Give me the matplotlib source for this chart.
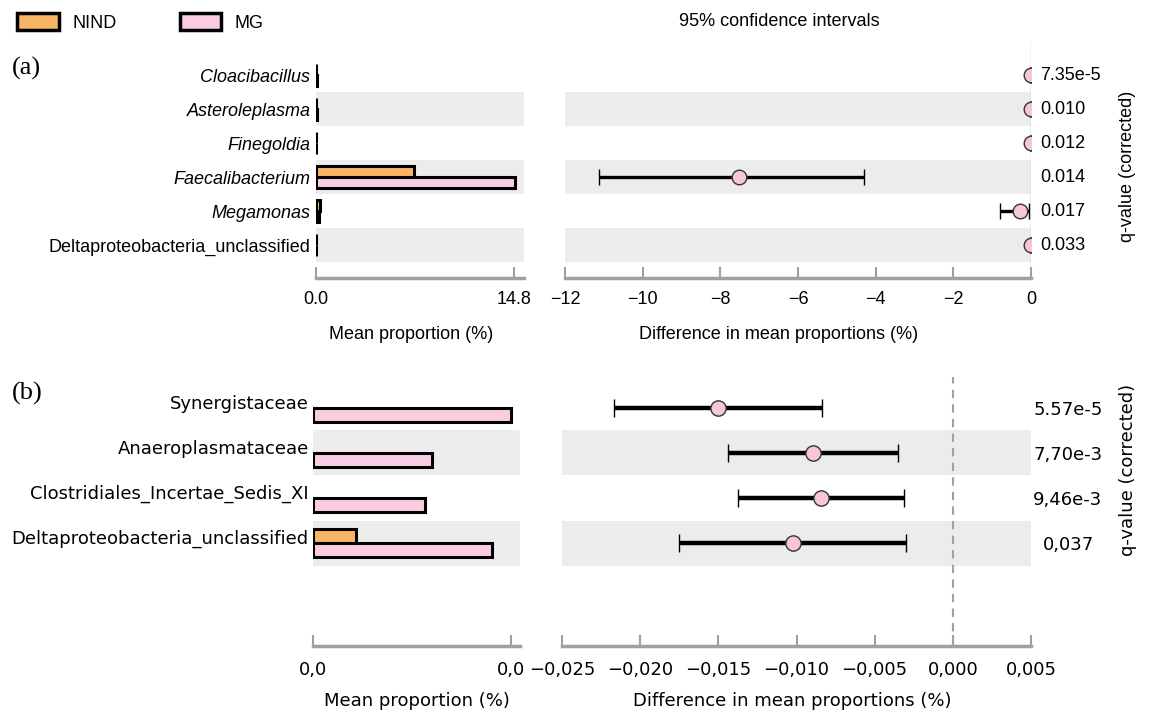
import matplotlib
matplotlib.use("Agg")
import matplotlib.pyplot as plt
import matplotlib.transforms as mtrans
from matplotlib.patches import Patch
from matplotlib.ticker import FixedLocator, FuncFormatter
import numpy as np

# ---------------- data ----------------
genera_a = ['Cloacibacillus', 'Asteroleplasma', 'Finegoldia', 'Faecalibacterium',
            'Megamonas', 'Deltaproteobacteria_unclassified']
italic_a = [True, True, True, True, True, False]
nind_a = [0.02, 0.02, 0.02, 7.32, 0.30, 0.02]
mg_a = [0.04, 0.04, 0.03, 14.85, 0.25, 0.03]
diff_a = [-0.01, -0.01, -0.01, -7.53, -0.28, -0.01]
ci_lo_a = [-0.03, -0.03, -0.03, -11.13, -0.80, -0.03]
ci_hi_a = [0.01, 0.01, 0.01, -4.31, -0.04, 0.01]
q_a = ['7.35e-5', '0.010', '0.012', '0.014', '0.017', '0.033']
prop_ticks_a = [0.0, 14.8]
prop_ticklabels_a = ['0.0', '14.8']
diff_ticks_a = [-12, -10, -8, -6, -4, -2, 0]

fams_b = ['Synergistaceae', 'Anaeroplasmataceae', 'Clostridiales_Incertae_Sedis_XI',
          'Deltaproteobacteria_unclassified']
nind_b = [0.0, 0.0, 0.0, 0.00326]
mg_b = [0.0150, 0.00902, 0.00848, 0.01356]
diff_b = [-0.0150, -0.00896, -0.00846, -0.01025]
ci_lo_b = [-0.02165, -0.01440, -0.01375, -0.01750]
ci_hi_b = [-0.00834, -0.00350, -0.00312, -0.00297]
q_b = ['5.57e-5', '7,70e-3', '9,46e-3', '0,037']
prop_ticks_b = [0.0, 0.015]
diff_ticks_b = [-0.025, -0.020, -0.015, -0.010, -0.005, 0.000, 0.005]

# ---------------- style ----------------
C_NIND = '#F9B462'
C_MG = '#F9CCE2'
C_BAND = '#ECECEC'
C_AX = '#A0A0A0'
C_MK = '#F7C6DB'
FA = 'Liberation Sans'
FB = 'DejaVu Sans'
FS = 13

W, H = 1149, 715
fig = plt.figure(figsize=(W / 100, H / 100), dpi=100)


def ax_px(x0, x1, ytop, ybot):
    return fig.add_axes([x0 / W, 1 - ybot / H, (x1 - x0) / W, (ybot - ytop) / H])


def style_axis(ax, fam, pad=8):
    for s in ['top', 'left', 'right']:
        ax.spines[s].set_visible(False)
    ax.spines['bottom'].set_color(C_AX)
    ax.spines['bottom'].set_linewidth(2.5)
    ax.tick_params(axis='x', direction='in', length=8, width=1.5, color=C_AX,
                   pad=pad, labelsize=FS)
    ax.tick_params(axis='y', length=0)
    for lbl in ax.get_xticklabels():
        lbl.set_family(fam)


def bands(ax, rows):
    for i in rows:
        ax.axhspan(i - 0.5, i + 0.5, color=C_BAND, zorder=0, lw=0)


# ================= panel (a) =================
n_a = len(genera_a)
y_a = np.arange(n_a)
ylim_a = ((278 - 75) / 34, (42 - 75) / 34)

axL = ax_px(316, 524, 42, 278)
bands(axL, [1, 3, 5])
bh = 0.33
axL.barh(y_a - bh / 2, nind_a, height=bh, color=C_NIND, edgecolor='black', lw=2.2, zorder=3)
axL.barh(y_a + bh / 2, mg_a, height=bh, color=C_MG, edgecolor='black', lw=2.2, zorder=3)
axL.set_xlim(0, 14.8 * 208 / 198)
axL.set_ylim(*ylim_a)
axL.set_xticks(prop_ticks_a)
axL.set_xticklabels(prop_ticklabels_a)
axL.set_yticks(y_a)
axL.set_yticklabels(genera_a, fontsize=FS, family=FA)
for lbl, it in zip(axL.get_yticklabels(), italic_a):
    lbl.set_style('italic' if it else 'normal')
axL.tick_params(axis='y', pad=4)
style_axis(axL, FA, pad=9)
axL.set_xlabel('Mean proportion (%)', fontsize=FS, family=FA)
axL.xaxis.set_label_coords(0.455, -0.205)

axR = ax_px(565, 1031, 42, 278)
bands(axR, [1, 3, 5])
axR.axvline(0, color='#B5B5B5', lw=1.0, zorder=1)
xerr_a = [np.array(diff_a) - np.array(ci_lo_a), np.array(ci_hi_a) - np.array(diff_a)]
axR.errorbar(diff_a, y_a, xerr=xerr_a, fmt='o', color='black', ecolor='black',
             elinewidth=2.4, capsize=6, capthick=1.2, markersize=10.5,
             markerfacecolor=C_MK, markeredgecolor='#333333', markeredgewidth=1.0, zorder=4)
axR.set_xlim(-12, 0)
axR.set_ylim(*ylim_a)
axR.set_xticks(diff_ticks_a)
axR.set_yticks([])
style_axis(axR, FA, pad=9)
axR.set_xlabel('Difference in mean proportions (%)', fontsize=FS, family=FA)
axR.xaxis.set_label_coords((779 - 565) / 466, -0.205)
tA = mtrans.blended_transform_factory(axR.transAxes, axR.transData) + \
    mtrans.ScaledTranslation(9 / 100, 0, fig.dpi_scale_trans)
for yi, q in zip(y_a, q_a):
    axR.text(1.0, yi, q, transform=tA, ha='left', va='center', fontsize=FS, family=FA,
             clip_on=False)

fig.text(1128 / W, 1 - 166 / H, 'q-value (corrected)', rotation=90, ha='center', va='center',
         fontsize=FS, family=FA)
fig.text(779 / W, 1 - 21 / H, '95% confidence intervals', ha='center', va='center',
         fontsize=FS, family=FA)
fig.text(12 / W, 1 - 68 / H, '(a)', ha='left', va='center', fontsize=19, family='Liberation Serif')

# ================= panel (b) =================
n_b = len(fams_b)
y_b = np.arange(n_b)
ylim_b = ((646 - 408) / 45, (377 - 408) / 45)

bL = ax_px(313, 520, 377, 646)
bands(bL, [1, 3])
bh2 = 0.31
lw_n = [2.2 if v > 0 else 0 for v in nind_b]
bL.barh(y_b - bh2 / 2, nind_b, height=bh2, color=C_NIND, edgecolor='black', lw=lw_n, zorder=3)
bL.barh(y_b + bh2 / 2, mg_b, height=bh2, color=C_MG, edgecolor='black', lw=2.2, zorder=3)
bL.set_xlim(0, 0.015 * 207 / 198)
bL.set_ylim(*ylim_b)
bL.xaxis.set_major_locator(FixedLocator(prop_ticks_b))
bL.xaxis.set_major_formatter(FuncFormatter(lambda v, p: f'{v:.1f}'.replace('.', ',')))
# labels sit slightly above the row centre, as in the original layout
bL.set_yticks(y_b - 6 / 45)
bL.set_yticklabels(fams_b, fontsize=FS, family=FB)
bL.tick_params(axis='y', pad=3)
style_axis(bL, FB, pad=11)
bL.set_xlabel('Mean proportion (%)', fontsize=FS, family=FB)
bL.xaxis.set_label_coords(0.5, -0.171)

bR = ax_px(562, 1031, 377, 646)
bands(bR, [1, 3])
bR.axvline(0, color=C_AX, lw=1.5, ls=(0, (4, 3)), zorder=2)
xerr_b = [np.array(diff_b) - np.array(ci_lo_b), np.array(ci_hi_b) - np.array(diff_b)]
bR.errorbar(diff_b, y_b, xerr=xerr_b, fmt='o', color='black', ecolor='black',
            elinewidth=3.2, capsize=6.5, capthick=1.3, markersize=11,
            markerfacecolor=C_MK, markeredgecolor='#333333', markeredgewidth=1.0, zorder=4)
bR.set_xlim(-0.025, 0.005)
bR.set_ylim(*ylim_b)
bR.xaxis.set_major_locator(FixedLocator(diff_ticks_b))
bR.xaxis.set_major_formatter(FuncFormatter(
    lambda v, p: f'{v:.3f}'.replace('-', '\u2212').replace('.', ',') if abs(v) > 1e-12 else '0,000'))
bR.set_yticks([])
style_axis(bR, FB, pad=11)
bR.set_xlabel('Difference in mean proportions (%)', fontsize=FS, family=FB)
bR.xaxis.set_label_coords(0.49, -0.171)
tB = mtrans.blended_transform_factory(bR.transAxes, bR.transData) + \
    mtrans.ScaledTranslation(37 / 100, 0, fig.dpi_scale_trans)
for yi, q in zip(y_b, q_b):
    bR.text(1.0, yi + 0.05, q, transform=tB, ha='center', va='center', fontsize=FS, family=FB,
            clip_on=False)

fig.text(1128 / W, 1 - 470 / H, 'q-value (corrected)', rotation=90, ha='center', va='center',
         fontsize=FS, family=FB)
fig.text(12 / W, 1 - 393 / H, '(b)', ha='left', va='center', fontsize=19, family='Liberation Serif')

# ---------------- legend ----------------
handles = [Patch(facecolor=C_NIND, edgecolor='black', lw=2.5, label='NIND'),
           Patch(facecolor=C_MG, edgecolor='black', lw=2.5, label='MG')]
fig.legend(handles=handles, loc='upper left', bbox_to_anchor=(17 / W, 1 - 13 / H), ncol=2,
           frameon=False, prop={'family': FA, 'size': FS}, handlelength=2.3, handleheight=1.1,
           handletextpad=0.75, columnspacing=3.5, borderpad=0, borderaxespad=0)

fig.savefig('out.png', dpi=100)
